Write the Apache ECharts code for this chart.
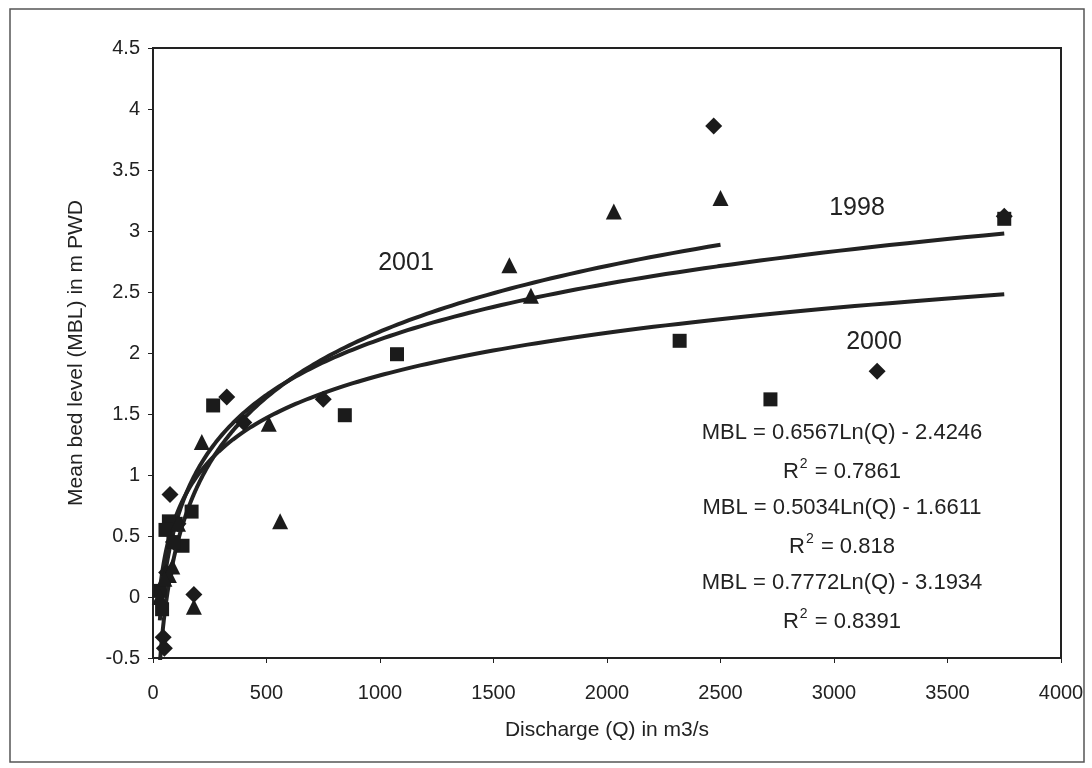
<!DOCTYPE html>
<html>
<head>
<meta charset="utf-8">
<script src="https://cdn.jsdelivr.net/npm/echarts@6/dist/echarts.min.js"></script>
<style>
html,body{margin:0;padding:0;background:#fff;}
#chart{width:1092px;height:768px;}
</style>
</head>
<body>
<div id="chart"></div>
<script>
// ---- data ----
const years = ['1998', '2000', '2001'];
const markers = ['diamond', 'rect', 'triangle'];

const data1998 = [
  [3750, 3.12], [2470, 3.86], [3190, 1.85], [750, 1.62], [325, 1.64], [400, 1.43],
  [75, 0.84], [180, 0.02], [45, -0.33], [50, -0.42], [60, 0.2], [110, 0.6], [90, 0.45]
];
const data2000 = [
  [3750, 3.1], [2320, 2.1], [2720, 1.62], [1075, 1.99], [845, 1.49], [265, 1.57],
  [170, 0.7], [130, 0.42], [100, 0.6], [70, 0.62], [55, 0.55], [90, 0.45], [40, -0.1], [30, 0.05]
];
const data2001 = [
  [2500, 3.27], [2030, 3.16], [1570, 2.72], [1665, 2.47], [510, 1.42], [560, 0.62],
  [215, 1.27], [180, -0.08], [85, 0.25], [70, 0.18], [50, 0.15], [30, 0.0], [110, 0.6]
];

// logarithmic trendlines printed on the chart: MBL = a*Ln(Q) + b
const trendA = [0.6567, 0.5034, 0.7772];
const trendB = [-2.4246, -1.6611, -3.1934];
const trendR2 = ['0.7861', '0.818', '0.8391'];
const trendQmin = [30, 30, 30];
const trendQmax = [3750, 3750, 2500];

const xTicks = { min: 0, max: 4000, interval: 500 };
const yTicks = { min: -0.5, max: 4.5, interval: 0.5 };

// ---- build ----
function trendCurve(i) {
  const pts = [];
  const n = 200;
  const lo = Math.log(trendQmin[i]), hi = Math.log(trendQmax[i]);
  for (let k = 0; k <= n; k++) {
    const q = Math.exp(lo + (hi - lo) * k / n);
    pts.push([q, trendA[i] * Math.log(q) + trendB[i]]);
  }
  return pts;
}

const scatterData = [data1998, data2000, data2001];
const markerSizes = [17, 14, 16];
const FONT = '"Liberation Sans", Arial, sans-serif';
const INK = '#1b1b1b';
const TXT = '#222';

const series = [];
for (let i = 0; i < 3; i++) {
  series.push({
    name: years[i] + ' trend',
    type: 'line',
    data: trendCurve(i),
    showSymbol: false,
    clip: true,
    lineStyle: { color: '#222', width: 4 },
    z: 2,
    silent: true
  });
}
for (let i = 0; i < 3; i++) {
  series.push({
    name: years[i],
    type: 'scatter',
    data: scatterData[i],
    symbol: markers[i],
    symbolSize: markerSizes[i],
    itemStyle: { color: INK, opacity: 1 },
    z: 3
  });
}

const eqX = 842;
const richStyle = {
  a: { fontSize: 22, fontFamily: FONT, fill: TXT, lineHeight: 26, verticalAlign: 'bottom' },
  s: { fontSize: 14, fontFamily: FONT, fill: TXT, lineHeight: 26, verticalAlign: 'top', padding: [0, 1, 0, 1] }
};
function eqText(y, txt) {
  return { type: 'text', x: eqX, y: y, style: { text: txt, fill: TXT, font: '22px ' + FONT, align: 'center', verticalAlign: 'middle' } };
}
function r2Text(y, val) {
  return { type: 'text', x: eqX, y: y, style: { text: '{a|R}{s|2}{a| = ' + val + '}', rich: richStyle, align: 'center', verticalAlign: 'middle' } };
}
function yearText(x, y, txt) {
  return { type: 'text', x: x, y: y, style: { text: txt, fill: TXT, font: '25px ' + FONT, align: 'center', verticalAlign: 'middle' } };
}

const option = {
  animation: false,
  backgroundColor: '#fff',
  grid: {
    left: 153, right: 31, top: 48, bottom: 110,
    show: true, borderColor: '#222', borderWidth: 2, backgroundColor: 'transparent'
  },
  xAxis: {
    type: 'value', min: xTicks.min, max: xTicks.max, interval: xTicks.interval,
    name: 'Discharge (Q) in m3/s', nameLocation: 'middle', nameGap: 62,
    nameTextStyle: { fontFamily: FONT, fontSize: 21, color: TXT },
    axisLine: { show: true, onZero: false, lineStyle: { color: '#222', width: 2 } },
    axisTick: { show: true, inside: false, length: 5, lineStyle: { color: '#222' } },
    axisLabel: { fontFamily: FONT, fontSize: 20, color: TXT, margin: 25, formatter: function (v) { return String(v); } },
    splitLine: { show: false }
  },
  yAxis: {
    type: 'value', min: yTicks.min, max: yTicks.max, interval: yTicks.interval,
    name: 'Mean bed level (MBL) in m PWD', nameLocation: 'middle', nameGap: 66, nameRotate: 90,
    nameTextStyle: { fontFamily: FONT, fontSize: 21, color: TXT },
    axisLine: { show: true, onZero: false, lineStyle: { color: '#222', width: 2 } },
    axisTick: { show: true, inside: false, length: 5, lineStyle: { color: '#222' } },
    axisLabel: { fontFamily: FONT, fontSize: 20, color: TXT, margin: 13, formatter: function (v) { return String(v); } },
    splitLine: { show: false }
  },
  series: series,
  graphic: [
    { type: 'rect', shape: { x: 10, y: 9, width: 1074, height: 753 }, style: { fill: 'none', stroke: '#555', lineWidth: 1.5 }, z: -1, silent: true },
    yearText(406, 263, '2001'),
    yearText(857, 208, '1998'),
    yearText(874, 342, '2000'),
    eqText(433, 'MBL = ' + trendA[0] + 'Ln(Q) - ' + Math.abs(trendB[0])),
    r2Text(470, trendR2[0]),
    eqText(508, 'MBL = ' + trendA[1] + 'Ln(Q) - ' + Math.abs(trendB[1])),
    r2Text(545, trendR2[1]),
    eqText(583, 'MBL = ' + trendA[2] + 'Ln(Q) - ' + Math.abs(trendB[2])),
    r2Text(620, trendR2[2])
  ]
};

const chart = echarts.init(document.getElementById('chart'), null, { renderer: 'canvas' });
chart.setOption(option);
</script>
</body>
</html>
